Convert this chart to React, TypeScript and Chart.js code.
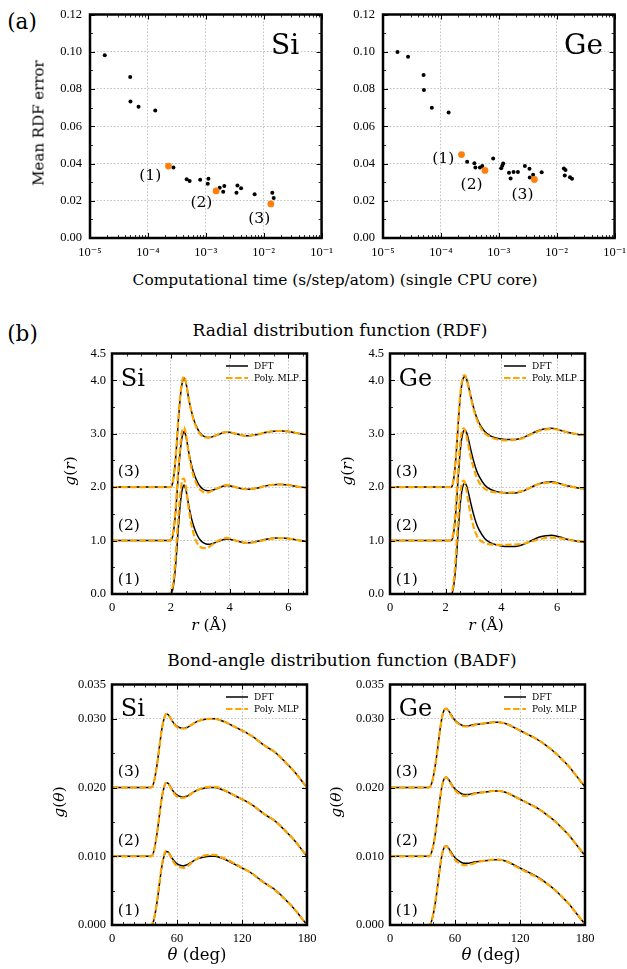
import React, { useEffect, useRef } from 'react';
import { Chart, registerables } from 'chart.js';
Chart.register(...registerables);

const SERIF = '"Liberation Serif", "DejaVu Serif", serif';
const TSERIF = '"DejaVu Serif", "Liberation Serif", serif';
const ORANGE_PT = '#ff7f0e';
const ORANGE_LN = '#ffa500';
const GRID = '#b4b4b4';

// ---------- (a) scatter data ----------
const siTime = [1.8e-5, 4.95e-5, 5.0e-5, 6.9e-5, 1.34e-4, 2.76e-4, 4.68e-4, 5.26e-4, 8.0e-4, 1.11e-3, 1.08e-3, 1.74e-3, 2.09e-3, 2.0e-3, 3.52e-3, 3.39e-3, 4.07e-3, 6.97e-3, 1.41e-2, 1.49e-2];
const siErr = [0.0981, 0.0865, 0.0733, 0.0705, 0.0684, 0.0378, 0.0315, 0.0306, 0.0313, 0.0318, 0.0291, 0.027, 0.0279, 0.0248, 0.0282, 0.0243, 0.0267, 0.0235, 0.0243, 0.0215];
const siSelTime = [2.27e-4, 1.51e-3, 1.33e-2];
const siSelErr = [0.0386, 0.0253, 0.0183];

const geTime = [1.78e-5, 2.71e-5, 5.02e-5, 5.09e-5, 6.97e-5, 1.36e-4, 2.84e-4, 3.79e-4, 3.94e-4, 4.73e-4, 5.19e-4, 8.0e-4, 1.19e-3, 1.15e-3, 1.1e-3, 1.5e-3, 1.6e-3, 1.8e-3, 2.14e-3, 2.82e-3, 3.39e-3, 3.43e-3, 3.92e-3, 5.51e-3, 1.33e-2, 1.42e-2, 1.38e-2, 1.7e-2, 1.84e-2];
const geErr = [0.0999, 0.0973, 0.0875, 0.0794, 0.07, 0.0674, 0.041, 0.0401, 0.0379, 0.0379, 0.0386, 0.0427, 0.04, 0.0388, 0.0375, 0.0351, 0.032, 0.0354, 0.0354, 0.0387, 0.0372, 0.0325, 0.034, 0.0353, 0.0373, 0.0365, 0.0335, 0.0326, 0.0318];
const geSelTime = [2.27e-4, 5.77e-4, 4.12e-3];
const geSelErr = [0.0448, 0.0363, 0.0314];

const logTicks = [1e-5, 1e-4, 1e-3, 1e-2, 1e-1];
const logTickLabels = ['10⁻⁵', '10⁻⁴', '10⁻³', '10⁻²', '10⁻¹'];
const errTicks = [0, 0.02, 0.04, 0.06, 0.08, 0.1, 0.12];
const errMinor = [0.01, 0.03, 0.05, 0.07, 0.09, 0.11];

// ---------- (b) RDF data ----------
const rSi = [0, 1.9, 2.0, 2.05, 2.1, 2.15, 2.2, 2.25, 2.3, 2.35, 2.4, 2.45, 2.5, 2.55, 2.6, 2.7, 2.8, 2.9, 3.0, 3.1, 3.2, 3.3, 3.4, 3.6, 3.8, 3.9, 4.0, 4.2, 4.4, 4.6, 4.8, 5.0, 5.2, 5.4, 5.6, 5.8, 6.0, 6.2, 6.4, 6.63];
const rdfSiDFT = [0, 0, 0, 0.05, 0.2, 0.45, 0.8, 1.2, 1.55, 1.82, 1.98, 2.04, 1.98, 1.85, 1.68, 1.42, 1.23, 1.1, 1.01, 0.96, 0.935, 0.93, 0.94, 0.98, 1.02, 1.03, 1.025, 1.0, 0.97, 0.96, 0.97, 0.99, 1.02, 1.04, 1.05, 1.05, 1.04, 1.02, 1.0, 0.99];
const rdfSiMLP1 = [0, 0, 0.02, 0.1, 0.3, 0.6, 1.0, 1.4, 1.75, 2.0, 2.15, 2.16, 2.05, 1.85, 1.63, 1.3, 1.08, 0.95, 0.88, 0.86, 0.86, 0.88, 0.92, 0.99, 1.04, 1.05, 1.04, 1.0, 0.97, 0.955, 0.965, 0.985, 1.01, 1.03, 1.045, 1.045, 1.035, 1.02, 1.0, 0.99];
const rdfSiMLP2 = [0, 0, 0.01, 0.07, 0.25, 0.52, 0.9, 1.3, 1.65, 1.92, 2.08, 2.12, 2.03, 1.86, 1.66, 1.36, 1.16, 1.03, 0.95, 0.91, 0.9, 0.905, 0.93, 0.98, 1.03, 1.04, 1.035, 1.0, 0.97, 0.96, 0.97, 0.99, 1.02, 1.04, 1.05, 1.05, 1.04, 1.02, 1.0, 0.985];
const rdfSiMLP3 = [0, 0, 0, 0.06, 0.22, 0.48, 0.84, 1.24, 1.59, 1.86, 2.02, 2.07, 2.0, 1.86, 1.68, 1.41, 1.21, 1.08, 0.99, 0.945, 0.925, 0.925, 0.94, 0.985, 1.025, 1.03, 1.025, 1.0, 0.97, 0.96, 0.97, 0.99, 1.02, 1.04, 1.05, 1.05, 1.04, 1.02, 1.0, 0.99];

const rGe = [0, 2.1, 2.2, 2.25, 2.3, 2.35, 2.4, 2.45, 2.5, 2.55, 2.6, 2.65, 2.7, 2.75, 2.8, 2.9, 3.0, 3.1, 3.2, 3.4, 3.6, 3.8, 4.0, 4.2, 4.4, 4.6, 4.8, 5.0, 5.2, 5.4, 5.6, 5.8, 6.0, 6.2, 6.4, 6.6, 6.8, 7.0];
const rdfGeDFT = [0, 0, 0, 0.05, 0.2, 0.45, 0.8, 1.2, 1.55, 1.82, 1.98, 2.06, 2.07, 2.02, 1.93, 1.7, 1.49, 1.32, 1.2, 1.04, 0.96, 0.92, 0.9, 0.89, 0.89, 0.9, 0.93, 0.98, 1.03, 1.07, 1.09, 1.1, 1.08, 1.05, 1.02, 1.0, 0.98, 0.97];
const rdfGeMLP1 = [0, 0, 0.02, 0.1, 0.3, 0.62, 1.02, 1.42, 1.75, 1.98, 2.1, 2.12, 2.06, 1.93, 1.76, 1.47, 1.26, 1.11, 1.02, 0.95, 0.93, 0.92, 0.92, 0.92, 0.925, 0.93, 0.945, 0.97, 1.0, 1.03, 1.05, 1.055, 1.05, 1.035, 1.015, 1.0, 0.99, 0.98];
const rdfGeMLP2 = [0, 0, 0.01, 0.08, 0.27, 0.56, 0.95, 1.35, 1.7, 1.95, 2.08, 2.1, 2.05, 1.95, 1.82, 1.56, 1.36, 1.2, 1.09, 0.97, 0.92, 0.9, 0.895, 0.895, 0.9, 0.91, 0.935, 0.98, 1.03, 1.065, 1.08, 1.085, 1.07, 1.045, 1.02, 1.0, 0.985, 0.975];
const rdfGeMLP3 = [0, 0, 0, 0.06, 0.22, 0.48, 0.84, 1.24, 1.6, 1.87, 2.02, 2.09, 2.09, 2.02, 1.92, 1.68, 1.46, 1.29, 1.16, 1.01, 0.94, 0.9, 0.88, 0.875, 0.88, 0.89, 0.92, 0.97, 1.02, 1.06, 1.08, 1.09, 1.075, 1.05, 1.02, 1.0, 0.985, 0.97];
const rdfOffsets = [0, 1, 2];

// ---------- (b) BADF data ----------
const theta = [0, 30, 36, 38, 40, 42, 44, 46, 48, 50, 52, 54, 56, 58, 60, 63, 66, 68, 70, 73, 76, 80, 85, 90, 95, 100, 105, 110, 115, 120, 125, 130, 135, 140, 145, 150, 155, 160, 165, 170, 175, 180];
const badfSiDFT = [0, 0, 0, 0.0004, 0.0018, 0.0038, 0.0062, 0.0085, 0.01, 0.0107, 0.0106, 0.0101, 0.0096, 0.0092, 0.0089, 0.0087, 0.0086, 0.0087, 0.0088, 0.0091, 0.0094, 0.0097, 0.0099, 0.01, 0.01, 0.0098, 0.0095, 0.0091, 0.0087, 0.0083, 0.0079, 0.0074, 0.0068, 0.0062, 0.0057, 0.0052, 0.0045, 0.0037, 0.0029, 0.002, 0.001, 0];
const badfSiMLP1 = [0, 0, 0, 0.0005, 0.0019, 0.004, 0.0064, 0.0087, 0.0102, 0.0108, 0.0106, 0.01, 0.0094, 0.0089, 0.0086, 0.0084, 0.0083, 0.0084, 0.0086, 0.009, 0.0094, 0.0098, 0.0101, 0.0102, 0.0102, 0.0099, 0.0096, 0.0092, 0.0088, 0.0083, 0.0079, 0.0074, 0.0068, 0.0062, 0.0057, 0.0051, 0.0044, 0.0037, 0.0029, 0.002, 0.001, 0];
const badfSiMLP2 = [0, 0, 0, 0.0004, 0.0018, 0.0039, 0.0063, 0.0086, 0.0101, 0.0107, 0.0106, 0.01, 0.0095, 0.009, 0.0087, 0.0085, 0.0085, 0.0086, 0.0087, 0.0091, 0.0094, 0.0097, 0.01, 0.0101, 0.0101, 0.0099, 0.0095, 0.0091, 0.0087, 0.0083, 0.0079, 0.0074, 0.0068, 0.0062, 0.0057, 0.0052, 0.0045, 0.0037, 0.0029, 0.002, 0.001, 0];
const badfSiMLP3 = [0, 0, 0, 0.0004, 0.0018, 0.0038, 0.0062, 0.0085, 0.01, 0.0107, 0.0106, 0.0101, 0.0096, 0.0091, 0.0088, 0.0086, 0.0086, 0.0086, 0.0088, 0.0091, 0.0094, 0.0097, 0.0099, 0.01, 0.01, 0.0098, 0.0095, 0.0091, 0.0087, 0.0083, 0.0079, 0.0074, 0.0068, 0.0062, 0.0057, 0.0052, 0.0045, 0.0037, 0.0029, 0.002, 0.001, 0];

const badfGeDFT = [0, 0, 0, 0.0004, 0.0016, 0.0034, 0.0057, 0.0082, 0.0102, 0.0113, 0.0115, 0.0112, 0.0107, 0.0102, 0.0098, 0.0094, 0.0091, 0.009, 0.009, 0.009, 0.0091, 0.0092, 0.0093, 0.0094, 0.0095, 0.0095, 0.0094, 0.0091, 0.0087, 0.0083, 0.0079, 0.0075, 0.0071, 0.0066, 0.006, 0.0054, 0.0047, 0.0039, 0.0031, 0.0021, 0.0011, 0.0001];
const badfGeMLP1 = [0, 0, 0, 0.0004, 0.0017, 0.0035, 0.0058, 0.0083, 0.0103, 0.0113, 0.0115, 0.0111, 0.0105, 0.01, 0.0095, 0.0091, 0.0088, 0.0087, 0.0087, 0.0088, 0.0089, 0.0091, 0.0093, 0.0094, 0.0095, 0.0095, 0.0094, 0.0091, 0.0086, 0.0082, 0.0078, 0.0074, 0.007, 0.0065, 0.006, 0.0054, 0.0047, 0.0039, 0.0031, 0.0021, 0.0011, 0.0001];
const badfGeMLP2 = [0, 0, 0, 0.0004, 0.0016, 0.0034, 0.0057, 0.0082, 0.0102, 0.0113, 0.0115, 0.0111, 0.0106, 0.0101, 0.0096, 0.0092, 0.0089, 0.0088, 0.0088, 0.0089, 0.009, 0.0092, 0.0093, 0.0094, 0.0095, 0.0095, 0.0094, 0.0091, 0.0087, 0.0083, 0.0079, 0.0075, 0.0071, 0.0066, 0.006, 0.0054, 0.0047, 0.0039, 0.0031, 0.0021, 0.0011, 0.0001];
const badfGeMLP3 = [0, 0, 0, 0.0004, 0.0016, 0.0034, 0.0057, 0.0082, 0.0102, 0.0113, 0.0115, 0.0112, 0.0106, 0.0101, 0.0097, 0.0093, 0.009, 0.0089, 0.0089, 0.0089, 0.009, 0.0092, 0.0093, 0.0094, 0.0095, 0.0095, 0.0094, 0.0091, 0.0087, 0.0083, 0.0079, 0.0075, 0.0071, 0.0066, 0.006, 0.0054, 0.0047, 0.0039, 0.0031, 0.0021, 0.0011, 0.0001];
const badfOffsets = [0, 0.01, 0.02];

const rdfYTicks = [0, 1, 2, 3, 4, 4.5];
const rdfYMinor = [0.5, 1.5, 2.5, 3.5];
const rdfXTicks = [0, 2, 4, 6];
const badfYTicks = [0, 0.01, 0.02, 0.03, 0.035];
const badfYMinor = [0.005, 0.015, 0.025];
const badfXTicks = [0, 60, 120, 180];

// ---------- layout ----------
type Box = { L: number; T: number; R: number; B: number };
const PAD_L = 50, PAD_T = 8, PAD_R = 16, PAD_B = 24;

const boxASi: Box = { L: 90, T: 7, R: 324, B: 238 };
const boxAGe: Box = { L: 383, T: 7, R: 617, B: 238 };
const boxRSi: Box = { L: 112, T: 348, R: 307, B: 594 };
const boxRGe: Box = { L: 390, T: 348, R: 585, B: 594 };
const boxBSi: Box = { L: 112, T: 679, R: 307, B: 925 };
const boxBGe: Box = { L: 390, T: 679, R: 585, B: 925 };

const decorPlugin = {
  id: 'decor',
  afterDraw(chart: any, _args: any, o: any) {
    const { ctx, chartArea: a, scales } = chart;
    const xs = scales.x, ys = scales.y;
    ctx.save();
    const tk = (vals: number[], len: number, axis: 'x' | 'y') => {
      ctx.beginPath();
      vals.forEach((v) => {
        if (axis === 'x') {
          const p = Math.round(xs.getPixelForValue(v)) + 0.5;
          ctx.moveTo(p, a.bottom); ctx.lineTo(p, a.bottom - len);
          ctx.moveTo(p, a.top); ctx.lineTo(p, a.top + len);
        } else {
          const p = Math.round(ys.getPixelForValue(v)) + 0.5;
          ctx.moveTo(a.left, p); ctx.lineTo(a.left + len, p);
          ctx.moveTo(a.right, p); ctx.lineTo(a.right - len, p);
        }
      });
      ctx.stroke();
    };
    ctx.strokeStyle = '#000';
    ctx.lineWidth = 1;
    tk(o.xMajor || [], 5, 'x');
    tk(o.yMajor || [], 5, 'y');
    ctx.lineWidth = 0.8;
    tk(o.xMinor || [], 3, 'x');
    tk(o.yMinor || [], 3, 'y');
    ctx.lineWidth = 2.5;
    ctx.strokeRect(a.left, a.top, a.right - a.left, a.bottom - a.top);
    (o.texts || []).forEach((t: any) => {
      ctx.font = `${t.size}px ${TSERIF}`;
      ctx.fillStyle = '#000';
      ctx.textAlign = t.align || 'center';
      ctx.textBaseline = t.baseline || 'middle';
      const px = t.xf !== undefined ? a.left + t.xf * (a.right - a.left) : xs.getPixelForValue(t.x);
      const py = t.yf !== undefined ? a.top + t.yf * (a.bottom - a.top) : ys.getPixelForValue(t.y);
      ctx.fillText(t.text, px, py);
    });
    if (o.legend) {
      const ds = chart.data.datasets;
      const dft = ds.find((d: any) => d.label === 'DFT');
      const mlp = ds.find((d: any) => d.label === 'Poly. MLP');
      [dft, mlp].forEach((d: any, i: number) => {
        const y = a.top + 12.5 + i * 12;
        ctx.beginPath();
        ctx.strokeStyle = d.borderColor;
        ctx.lineWidth = d.borderWidth;
        ctx.setLineDash(d.borderDash || []);
        ctx.moveTo(a.right - 81, y);
        ctx.lineTo(a.right - 59, y);
        ctx.stroke();
        ctx.setLineDash([]);
        ctx.font = `9px ${TSERIF}`;
        ctx.fillStyle = '#000';
        ctx.textAlign = 'left';
        ctx.textBaseline = 'middle';
        ctx.fillText(d.label, a.right - 53, y + 0.5);
      });
    }
    ctx.restore();
  },
};

function axis(kind: 'x' | 'y', type: string, min: number, max: number, ticks: number[], labels: (v: number) => string, padding: number) {
  return {
    type,
    min,
    max,
    afterBuildTicks: (s: any) => { s.ticks = ticks.map((v) => ({ value: v })); },
    afterFit: (s: any) => { if (kind === 'y') s.width = PAD_L; else s.height = PAD_B; },
    ticks: {
      autoSkip: false, maxRotation: 0, minRotation: 0, padding, color: '#000',
      font: { family: SERIF, size: 12.5 },
      callback: (v: any) => labels(Number(v)),
    },
    grid: {
      drawTicks: false, lineWidth: 0.8,
      color: (c: any) => {
        const v = c.tick ? c.tick.value : NaN;
        return v === min || v === max ? 'rgba(0,0,0,0)' : GRID;
      },
    },
    border: { display: false, dash: [1.6, 1.8] },
  };
}

function baseOptions(scales: any, decor: any) {
  return {
    responsive: false,
    maintainAspectRatio: false,
    animation: false,
    devicePixelRatio: 1,
    events: [],
    layout: { autoPadding: false, padding: { left: 0, top: PAD_T, right: PAD_R, bottom: 0 } },
    scales,
    plugins: { legend: { display: false }, tooltip: { enabled: false }, decor },
  };
}

const logMinor: number[] = [];
[1e-5, 1e-4, 1e-3, 1e-2].forEach((d) => [2, 3, 4, 5, 6, 7, 8, 9].forEach((m) => logMinor.push(m * d)));

function scatterConfig(time: number[], err: number[], selT: number[], selE: number[], name: string, lab: { x: number; y: number }[]) {
  const pts = time.map((t, i) => ({ x: t, y: err[i] }));
  const sel = selT.map((t, i) => ({ x: t, y: selE[i] }));
  return {
    type: 'scatter',
    data: {
      datasets: [
        { label: 'selected', data: sel, pointRadius: 3.4, pointBackgroundColor: ORANGE_PT, pointBorderWidth: 0, order: 0 },
        { label: 'models', data: pts, pointRadius: 2, pointBackgroundColor: '#000', pointBorderWidth: 0, order: 1 },
      ],
    },
    options: baseOptions(
      {
        x: axis('x', 'logarithmic', 1e-5, 1e-1, logTicks, (v) => logTickLabels[logTicks.findIndex((t) => Math.abs(Math.log10(t) - Math.log10(v)) < 1e-6)] || '', 7),
        y: axis('y', 'linear', 0, 0.12, errTicks, (v) => v.toFixed(2), 8),
      },
      {
        xMajor: logTicks, xMinor: logMinor, yMajor: errTicks, yMinor: errMinor,
        texts: [
          { text: name, xf: 0.782, yf: 0.178, size: 28, align: 'left', baseline: 'alphabetic' },
          { text: '(1)', x: lab[0].x, y: lab[0].y, size: 15.5 },
          { text: '(2)', x: lab[1].x, y: lab[1].y, size: 15.5 },
          { text: '(3)', x: lab[2].x, y: lab[2].y, size: 15.5 },
        ],
      }
    ),
    plugins: [decorPlugin],
  };
}

function curveConfig(xv: number[], dft: number[], mlps: number[][], offsets: number[], xmax: number, xTicks: number[], xMinor: number[], yMax: number, yTicks: number[], yMajorTk: number[], yMinor: number[], yFmt: (v: number) => string, name: string, labelY: number[], nameYf: number) {
  const datasets: any[] = [];
  offsets.forEach((off, k) => {
    datasets.push({
      type: 'line', label: 'DFT', data: xv.map((x, i) => ({ x, y: dft[i] + off })),
      borderColor: '#000', borderWidth: 1.5, pointRadius: 0, fill: false,
      cubicInterpolationMode: 'monotone', order: 20 - 2 * k,
    });
    datasets.push({
      type: 'line', label: 'Poly. MLP', data: xv.map((x, i) => ({ x, y: mlps[k][i] + off })),
      borderColor: ORANGE_LN, borderWidth: 2.2, borderDash: [6.5, 2.6], pointRadius: 0, fill: false,
      cubicInterpolationMode: 'monotone', order: 19 - 2 * k,
    });
  });
  return {
    type: 'line',
    data: { datasets },
    options: baseOptions(
      {
        x: axis('x', 'linear', 0, xmax, xTicks, (v) => String(v), 6),
        y: axis('y', 'linear', 0, yMax, yTicks, yFmt, 6),
      },
      {
        xMajor: xTicks, xMinor, yMajor: yMajorTk, yMinor,
        legend: true,
        texts: [
          { text: name, xf: 0.045, yf: nameYf, size: 24, align: 'left', baseline: 'alphabetic' },
          { text: '(1)', xf: 0.03, y: labelY[0], size: 15.5, align: 'left' },
          { text: '(2)', xf: 0.03, y: labelY[1], size: 15.5, align: 'left' },
          { text: '(3)', xf: 0.03, y: labelY[2], size: 15.5, align: 'left' },
        ],
      }
    ),
    plugins: [decorPlugin],
  };
}

const rdfXMinor = [0.5, 1, 1.5, 2.5, 3, 3.5, 4.5, 5, 5.5, 6.5];
const badfXMinor = [10, 20, 30, 40, 50, 70, 80, 90, 100, 110, 130, 140, 150, 160, 170];

function Panel({ box, make }: { box: Box; make: () => any }) {
  const ref = useRef<HTMLCanvasElement>(null);
  useEffect(() => {
    const chart = new Chart(ref.current as HTMLCanvasElement, make());
    return () => chart.destroy();
  }, []);
  const w = box.R - box.L + PAD_L + PAD_R;
  const h = box.B - box.T + PAD_T + PAD_B;
  return (
    <canvas
      ref={ref}
      width={w}
      height={h}
      style={{ position: 'absolute', left: box.L - PAD_L, top: box.T - PAD_T, width: w, height: h }}
    />
  );
}

function Label({ x, y, size, rotate, children }: { x: number; y: number; size: number; rotate?: boolean; children: any }) {
  return (
    <div
      style={{
        position: 'absolute', left: x, top: y, fontFamily: TSERIF, fontSize: size, lineHeight: 1,
        color: '#000', whiteSpace: 'nowrap',
        transform: rotate ? 'translate(-50%,-50%) rotate(-90deg)' : 'translate(-50%,-50%)',
      }}
    >
      {children}
    </div>
  );
}

const rdfFmt = (v: number) => v.toFixed(1);
const badfFmt = (v: number) => v.toFixed(3);

export default function App() {
  return (
    <div style={{ position: 'absolute', left: 0, top: 0, width: 627, height: 969, overflow: 'hidden', background: '#fff' }}>
      <Panel box={boxASi} make={() => scatterConfig(siTime, siErr, siSelTime, siSelErr, 'Si', [{ x: 1.1e-4, y: 0.0332 }, { x: 8.4e-4, y: 0.0188 }, { x: 8.4e-3, y: 0.0104 }])} />
      <Panel box={boxAGe} make={() => scatterConfig(geTime, geErr, geSelTime, geSelErr, 'Ge', [{ x: 1.1e-4, y: 0.0426 }, { x: 3.39e-4, y: 0.0286 }, { x: 2.57e-3, y: 0.0229 }])} />
      <Panel box={boxRSi} make={() => curveConfig(rSi, rdfSiDFT, [rdfSiMLP1, rdfSiMLP2, rdfSiMLP3], rdfOffsets, 6.63, rdfXTicks, rdfXMinor, 4.5, rdfYTicks, [0, 1, 2, 3, 4], rdfYMinor, rdfFmt, 'Si', [0.27, 1.28, 2.28], 0.134)} />
      <Panel box={boxRGe} make={() => curveConfig(rGe, rdfGeDFT, [rdfGeMLP1, rdfGeMLP2, rdfGeMLP3], rdfOffsets, 7, rdfXTicks, rdfXMinor, 4.5, rdfYTicks, [0, 1, 2, 3, 4], rdfYMinor, rdfFmt, 'Ge', [0.27, 1.28, 2.28], 0.134)} />
      <Panel box={boxBSi} make={() => curveConfig(theta, badfSiDFT, [badfSiMLP1, badfSiMLP2, badfSiMLP3], badfOffsets, 180, badfXTicks, badfXMinor, 0.035, badfYTicks, [0, 0.01, 0.02, 0.03], badfYMinor, badfFmt, 'Si', [0.0021, 0.0122, 0.0223], 0.13)} />
      <Panel box={boxBGe} make={() => curveConfig(theta, badfGeDFT, [badfGeMLP1, badfGeMLP2, badfGeMLP3], badfOffsets, 180, badfXTicks, badfXMinor, 0.035, badfYTicks, [0, 0.01, 0.02, 0.03], badfYMinor, badfFmt, 'Ge', [0.0021, 0.0122, 0.0223], 0.13)} />

      <Label x={22} y={22} size={21.5}>(a)</Label>
      <Label x={22.5} y={333.5} size={21.5}>(b)</Label>
      <Label x={38.5} y={122.5} size={15} rotate>Mean RDF error</Label>
      <Label x={335} y={281} size={15.4}>Computational time (s/step/atom) (single CPU core)</Label>
      <Label x={340} y={330} size={17}>Radial distribution function (RDF)</Label>
      <Label x={342} y={660} size={17}>Bond-angle distribution function (BADF)</Label>

      <Label x={70.5} y={471} size={15.5} rotate><i>g</i>(<i>r</i>)</Label>
      <Label x={347.5} y={471} size={15.5} rotate><i>g</i>(<i>r</i>)</Label>
      <Label x={209} y={626} size={15.5}><i>r</i> (Å)</Label>
      <Label x={486} y={626} size={15.5}><i>r</i> (Å)</Label>

      <Label x={60} y={802} size={15.5} rotate><i>g</i>(<i>θ</i>)</Label>
      <Label x={336.5} y={802} size={15.5} rotate><i>g</i>(<i>θ</i>)</Label>
      <Label x={197} y={955} size={16.5}><i>θ</i> (deg)</Label>
      <Label x={491} y={955} size={16.5}><i>θ</i> (deg)</Label>
    </div>
  );
}
